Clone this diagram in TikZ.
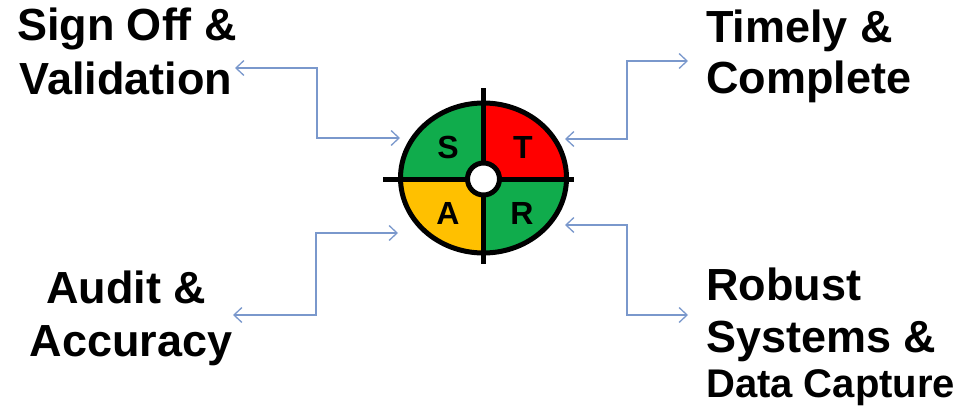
\documentclass[tikz,border=0pt]{standalone}
\usepackage{fontspec}
\setmainfont{Liberation Sans}
\usetikzlibrary{arrows.meta}
\definecolor{qgreen}{RGB}{16,172,76}
\definecolor{qred}{RGB}{255,0,0}
\definecolor{qorange}{RGB}{255,192,0}
\definecolor{conn}{RGB}{122,152,204}
\begin{document}
\begin{tikzpicture}[x=1pt,y=1pt,
  lbl/.style={inner sep=0pt,font=\bfseries\fontsize{45}{54}\selectfont},
  lblsmall/.style={inner sep=0pt,font=\bfseries\fontsize{40}{48}\selectfont},
  quad/.style={inner sep=0pt,font=\bfseries\fontsize{32}{34}\selectfont},
  link/.style={draw=conn,line width=1.3pt,{Straight Barb[length=8pt,width=15pt]}-{Straight Barb[length=8pt,width=15pt]}},
  heavy/.style={line width=5pt}]
\useasboundingbox (0,0) rectangle (979,408);
% target
\coordinate (c) at (483.5,230);
\begin{scope}
  \clip (c) ellipse [x radius=83, y radius=75];
  \fill[qgreen] (c) rectangle ++(-100,100);
  \fill[qred] (c) rectangle ++(100,100);
  \fill[qorange] (c) rectangle ++(-100,-100);
  \fill[qgreen] (c) rectangle ++(100,-100);
\end{scope}
\draw[heavy] (c) ellipse [x radius=83, y radius=75];
\draw[heavy] (483.5,320) -- (483.5,144);
\draw[heavy] (383,229) -- (574,229);
\node[circle,draw,fill=white,line width=5pt,minimum size=32pt,inner sep=0pt] (hub) at (483.5,229) {};
\node[quad] (qs) at (448,261) {S};
\node[quad] (qt) at (523,261) {T};
\node[quad] (qa) at (448,195) {A};
\node[quad] (qr) at (522,195) {R};
% labels
\node[lbl,anchor=base] (so1) at (127,367) {Sign Off \&};
\node[lbl,anchor=base] (so2) at (126,314) {Validation};
\node[lbl,anchor=base west] (tc1) at (706,365) {Timely \&};
\node[lbl,anchor=base west] (tc2) at (706,315) {Complete};
\node[lbl,anchor=base] (aa1) at (126,105) {Audit \&};
\node[lbl,anchor=base] (aa2) at (131,52) {Accuracy};
\node[lbl,anchor=base west] (rb1) at (706,108) {Robust};
\node[lbl,anchor=base west] (rb2) at (706,56) {Systems \&};
\node[lblsmall,anchor=base west] (rb3) at (706,11) {Data Capture};
% connector ends
\coordinate (tlA) at (235,340); \coordinate (tlB) at (400,270);
\coordinate (trA) at (565,269); \coordinate (trB) at (688,347);
\coordinate (blA) at (398,175); \coordinate (blB) at (233,93);
\coordinate (brA) at (565,183); \coordinate (brB) at (688,93);
\draw[link] (tlA) -| (317,305) |- (tlB);
\draw[link] (trA) -| (627,308) |- (trB);
\draw[link] (blA) -| (316,134) |- (blB);
\draw[link] (brA) -| (627,138) |- (brB);
\end{tikzpicture}
\end{document}
